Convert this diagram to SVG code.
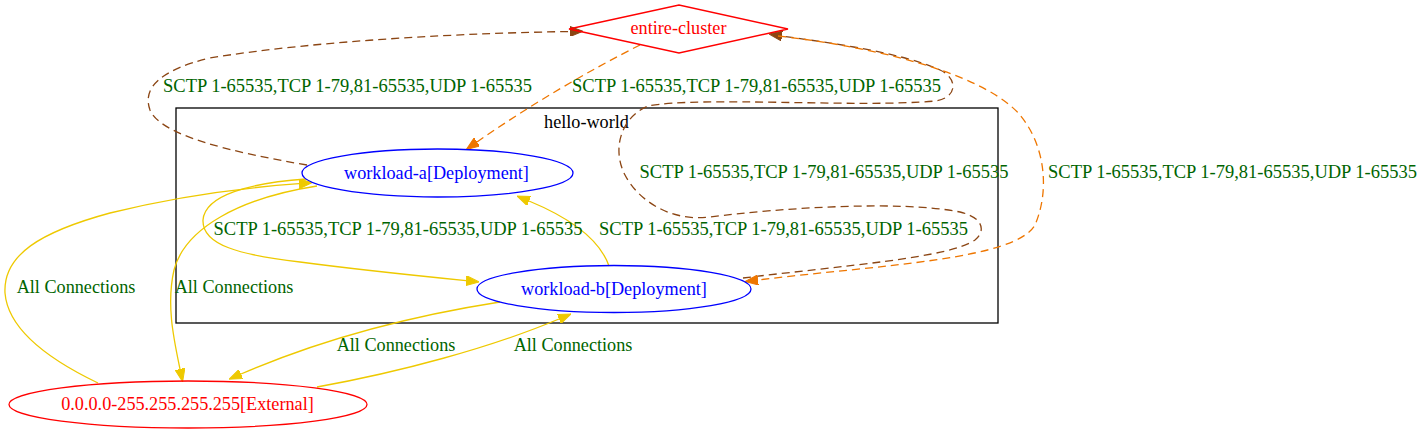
<svg xmlns="http://www.w3.org/2000/svg" width="1427" height="435" viewBox="0 0 1427 435">
<style>
text{font-family:"Liberation Serif","Times New Roman",serif;font-size:18.2px;text-anchor:middle}
.lbl{fill:#006400}
.sctp{font-size:18.5px}
.e{fill:none;stroke-width:1.3}
.brown{stroke:#8B4513;stroke-dasharray:8,5;marker-end:url(#ab)}
.orange{stroke:#EE7600;stroke-dasharray:8,5;marker-end:url(#ao)}
.yellow{stroke:#EEC900;marker-end:url(#ay)}
</style>
<defs>
<marker id="ab" viewBox="0 0 13 10" refX="0" refY="5" markerWidth="13" markerHeight="10" markerUnits="userSpaceOnUse" orient="auto"><path d="M0,0 L13,5 L0,10 z" fill="#8B4513" stroke="#8B4513" stroke-width="1"/></marker>
<marker id="ao" viewBox="0 0 13 10" refX="0" refY="5" markerWidth="13" markerHeight="10" markerUnits="userSpaceOnUse" orient="auto"><path d="M0,0 L13,5 L0,10 z" fill="#EE7600" stroke="#EE7600" stroke-width="1"/></marker>
<marker id="ay" viewBox="0 0 13 10" refX="0" refY="5" markerWidth="13" markerHeight="10" markerUnits="userSpaceOnUse" orient="auto"><path d="M0,0 L13,5 L0,10 z" fill="#EEC900" stroke="#EEC900" stroke-width="1"/></marker>
</defs>
<rect width="1427" height="435" fill="#fff"/>
<g id="cluster-hello-world">
<rect x="176" y="108" width="822" height="215" fill="none" stroke="#000" stroke-width="1.3"/>
<text x="586.5" y="128" fill="#000">hello-world</text>
</g>
<g id="connectors">
<path class="e brown" d="M307,165 C230,152 160,135 150,110 C142,88 160,70 210,58 C320,40 470,33 570,31.5"/>
<path class="e orange" d="M640,45 C590,70 530,105 477,142"/>
<path class="e brown" d="M743,278 C840,266 950,258 975,240 C985,232 985,218 960,212 C900,200 780,208 710,217 C670,222 638,200 625,175 C612,150 620,118 648,106 C700,96 860,108 935,101 C958,98 958,78 940,70 C900,52 830,43 782,36"/>
<path class="e orange" d="M778,36 C900,50 990,80 1020,115 C1045,145 1050,190 1035,225 C1015,260 880,265 758,280"/>
<path class="e yellow" d="M306,179 C250,183 205,195 203,220 C202,245 240,255 300,262 C360,270 420,276 466,280.6"/>
<path class="e yellow" d="M609,266 C600,240 570,218 529,201"/>
<path class="e yellow" d="M317,186 C240,198 185,228 174,270 C166,305 174,340 180,369"/>
<path class="e yellow" d="M98,383 C50,360 8,330 5,293 C3,255 40,232 110,213 C170,198 240,188 299,183.7"/>
<path class="e yellow" d="M500,302 C410,316 320,340 241,374"/>
<path class="e yellow" d="M317,387 C400,372 490,348 559,319"/>
<text class="lbl sctp" x="347.5" y="92">SCTP 1-65535,TCP 1-79,81-65535,UDP 1-65535</text>
<text class="lbl sctp" x="756.5" y="92">SCTP 1-65535,TCP 1-79,81-65535,UDP 1-65535</text>
<text class="lbl sctp" x="824" y="178">SCTP 1-65535,TCP 1-79,81-65535,UDP 1-65535</text>
<text class="lbl sctp" x="1232.5" y="178">SCTP 1-65535,TCP 1-79,81-65535,UDP 1-65535</text>
<text class="lbl sctp" x="398" y="235">SCTP 1-65535,TCP 1-79,81-65535,UDP 1-65535</text>
<text class="lbl sctp" x="783.5" y="235">SCTP 1-65535,TCP 1-79,81-65535,UDP 1-65535</text>
<text class="lbl" x="76" y="293">All Connections</text>
<text class="lbl" x="234" y="293">All Connections</text>
<text class="lbl" x="396" y="351">All Connections</text>
<text class="lbl" x="573" y="351">All Connections</text>
</g>
<g id="entire-cluster">
<polygon points="569,29 679,5 788,29 679,53" fill="none" stroke="#FF0000" stroke-width="1.3"/>
<text x="678.5" y="34" fill="#FF0000">entire-cluster</text>
</g>
<g id="workload-a">
<ellipse cx="437.5" cy="173" rx="135.5" ry="24" fill="none" stroke="#0000FF" stroke-width="1.3"/>
<text x="436.5" y="179" fill="#0000FF">workload-a[Deployment]</text>
</g>
<g id="workload-b">
<ellipse cx="614" cy="289" rx="137" ry="23.5" fill="none" stroke="#0000FF" stroke-width="1.3"/>
<text x="614" y="295" fill="#0000FF">workload-b[Deployment]</text>
</g>
<g id="external">
<ellipse cx="188" cy="404.5" rx="179" ry="23.5" fill="none" stroke="#FF0000" stroke-width="1.3"/>
<text x="187.5" y="410" fill="#FF0000">0.0.0.0-255.255.255.255[External]</text>
</g>
</svg>
